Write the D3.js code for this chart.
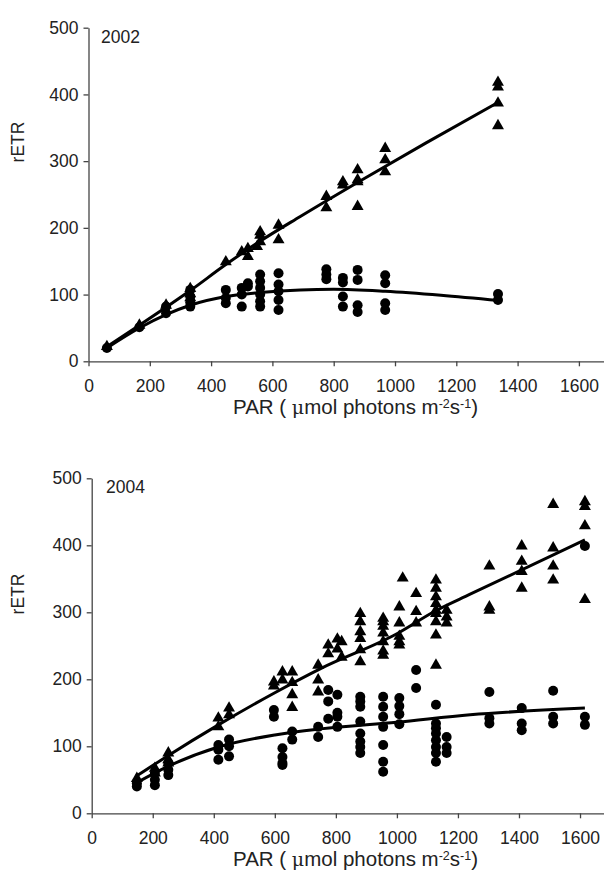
<!DOCTYPE html>
<html>
<head>
<meta charset="utf-8">
<script src="https://cdn.jsdelivr.net/npm/d3@7"></script>
<style>
  body { margin: 0; background: #fff; }
  svg text { font-family: "Liberation Sans", Arial, sans-serif; fill: #222; }
</style>
</head>
<body>
<div id="chart"></div>
<script>
// ---- data ----
// 2002: PAR levels, and the rETR values measured at each
const par2002 = [60, 166, 253, 332, 448, 500, 520, 550, 560, 620, 776, 830, 878, 968, 1336];
const tri2002 = [[22], [54], [84], [109, 101, 95], [149], [164], [169, 157], [172], [194, 189, 179], [204, 182],
  [247, 230], [269, 264], [287, 272, 269, 232], [319, 302, 284], [418, 411, 387, 353]];
const dot2002 = [[20], [51], [82, 72], [107, 97, 88, 82], [107, 95, 87], [110, 100, 82], [117, 112], [],
  [130, 120, 110, 100, 90, 82], [132, 115, 105, 92, 77], [138, 130, 123], [125, 118, 97, 82],
  [137, 122, 84, 74], [129, 117, 87, 77], [101, 92]];

// 2004
const par2004 = [148, 207, 251, 415, 450, 597, 625, 657, 742, 775, 805, 819, 880, 955, 1008, 1019, 1063,
  1128, 1163, 1303, 1409, 1512, 1616];
const tri2004 = [[52], [67, 60], [90, 80, 75], [142, 129], [157, 147], [196, 190], [211, 199], [211, 195, 177, 158],
  [221, 199, 181], [251, 238], [260, 245], [256, 233], [298, 286, 271, 261, 244, 226],
  [291, 286, 279, 269, 256, 242, 236], [308, 284, 264, 256, 251], [351], [328, 301, 284],
  [348, 336, 323, 313, 303, 298, 286, 266, 221], [303, 293, 284], [369, 308, 303],
  [399, 376, 361, 336], [461, 396, 369, 348], [465, 458, 429, 319]];
const dot2004 = [[45, 40], [60, 50, 42], [75, 65, 57], [102, 95, 80], [110, 100, 85], [154, 144],
  [97, 84, 75, 72], [122, 110], [129, 114], [184, 167, 141], [177, 150, 144, 129], [],
  [174, 167, 159, 137, 119, 107, 99, 90], [174, 159, 144, 129, 102, 77, 62], [172, 160, 148, 133], [],
  [214, 187], [162, 134, 127, 119, 109, 99, 90, 77], [114, 99, 90], [181, 142, 134], [157, 134, 124],
  [183, 144, 134], [399, 144, 132]];

// fitted curves, points
const fitTri2002 = [[60, 22], [166, 54], [332, 106], [448, 145], [560, 180], [691, 217], [900, 274], [1100, 327], [1340, 389]];
const fitDot2002 = [[60, 20], [166, 50], [253, 70], [332, 84], [448, 97], [560, 103], [691, 107], [800, 108], [968, 105], [1150, 99], [1340, 91]];
const fitTri2004 = [[145, 55], [250, 86], [415, 132], [600, 180], [750, 216], [1000, 268], [1130, 303], [1240, 327], [1616, 408]];
const fitDot2004 = [[145, 45], [250, 70], [415, 99], [600, 117], [750, 126], [1000, 136], [1240, 147], [1616, 157]];

const yTicks = [0, 100, 200, 300, 400, 500];
const xTicks = [0, 200, 400, 600, 800, 1000, 1200, 1400, 1600];

const W = 604, H = 882;
const svg = d3.select('#chart').append('svg').attr('width', W).attr('height', H);

// one panel
const drawPanel = (p) => {
  const x = d3.scaleLinear().domain([0, 1700]).range([p.left, p.left + 1700 * p.kx]);
  const y = d3.scaleLinear().domain([0, 500]).range([p.bottom, p.top]);
  const g = svg.append('g');

  // fitted lines first, markers on top
  const line = d3.line().x((d) => x(d[0])).y((d) => y(d[1])).curve(d3.curveMonotoneX);
  [p.fitTri, p.fitDot].forEach((f) => {
    g.append('path').datum(f).attr('fill', 'none').attr('stroke', '#000')
      .attr('stroke-width', 3).attr('d', line);
  });

  const dots = [];
  const tris = [];
  p.par.forEach((v, i) => {
    p.dot[i].forEach((r) => dots.push([v, r]));
    p.tri[i].forEach((r) => tris.push([v, r]));
  });

  g.selectAll('circle.d').data(dots).join('circle')
    .attr('cx', (d) => x(d[0])).attr('cy', (d) => y(d[1]))
    .attr('r', 5).attr('fill', '#000');

  const tri = d3.symbol(d3.symbolTriangle, 62);
  g.selectAll('path.t').data(tris).join('path')
    .attr('transform', (d) => `translate(${x(d[0])},${y(d[1])})`)
    .attr('d', tri).attr('fill', '#000');

  // axes
  const ax = g.append('g').attr('transform', `translate(0,${p.bottom})`)
    .call(d3.axisBottom(x).tickValues(xTicks).tickFormat(d3.format('d'))
      .tickSize(5).tickSizeOuter(0).tickPadding(13));
  const ay = g.append('g').attr('transform', `translate(${p.left},0)`)
    .call(d3.axisLeft(y).tickValues(yTicks).tickFormat(d3.format('d'))
      .tickSize(5).tickSizeOuter(0).tickPadding(5));
  [ax, ay].forEach((a) => {
    a.select('.domain').attr('stroke', '#444').attr('stroke-width', 1.3);
    a.selectAll('.tick line').attr('stroke', '#444').attr('stroke-width', 1.3);
    a.selectAll('.tick text').attr('font-size', 17.5).attr('fill', '#222')
      .style('font-family', '"Liberation Sans", Arial, sans-serif');
  });

  // year
  g.append('text').attr('x', p.yearX).attr('y', p.top + 15).attr('font-size', 17.5).text(p.year);

  // rETR
  g.append('text').attr('transform', `translate(24,${p.yLabelY}) rotate(-90)`)
    .attr('text-anchor', 'middle').attr('font-size', 17.5).text('rETR');

  // PAR title with superscripts
  const t = g.append('text').attr('x', 233).attr('y', p.bottom + 53).attr('font-size', 20.5);
  t.append('tspan').text('PAR ( ');
  t.append('tspan').text('\u03bc').style('font-family', '"DejaVu Serif", serif').attr('font-size', 19);
  t.append('tspan').text('mol photons m');
  t.append('tspan').text('-2').attr('font-size', 12.5).attr('dy', -6);
  t.append('tspan').text('s').attr('dy', 6);
  t.append('tspan').text('-1').attr('font-size', 12.5).attr('dy', -6);
  t.append('tspan').text(')').attr('dy', 6);
};

drawPanel({ left: 88.5, kx: 0.3065, top: 27.7, bottom: 361.3, year: '2002', yearX: 101, yLabelY: 142,
  par: par2002, tri: tri2002, dot: dot2002, fitTri: fitTri2002, fitDot: fitDot2002 });
drawPanel({ left: 91.7, kx: 0.3052, top: 478.3, bottom: 813.3, year: '2004', yearX: 106, yLabelY: 594,
  par: par2004, tri: tri2004, dot: dot2004, fitTri: fitTri2004, fitDot: fitDot2004 });
</script>
</body>
</html>
